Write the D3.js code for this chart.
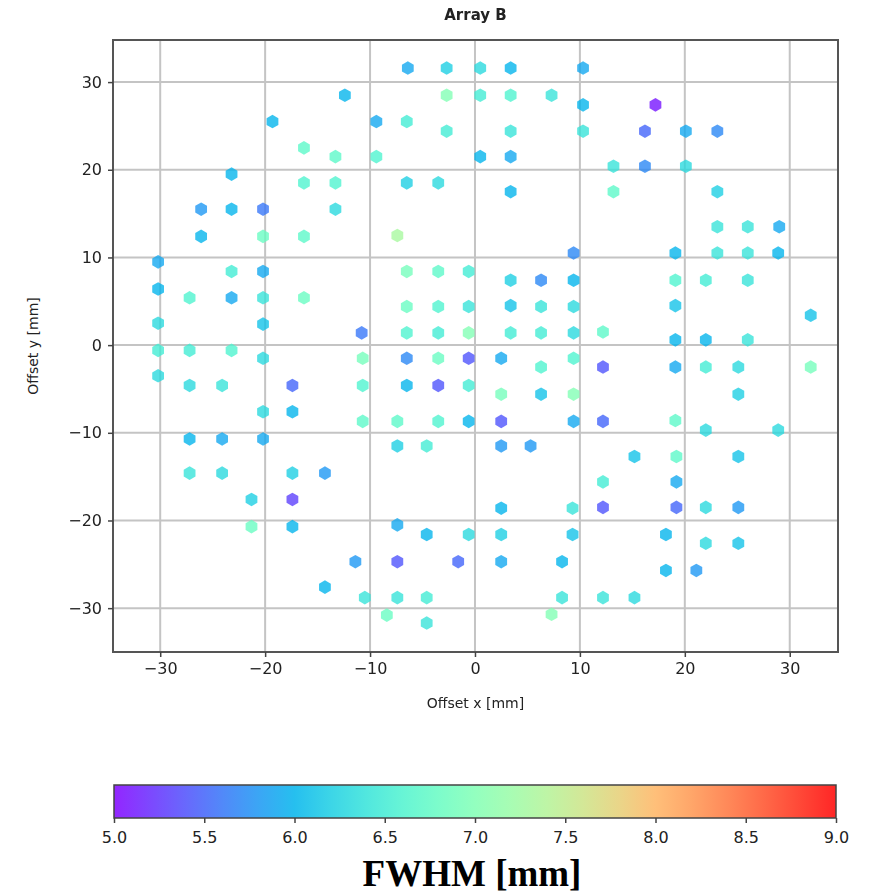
<!DOCTYPE html>
<html>
<head>
<meta charset="utf-8">
<script src="https://cdn.jsdelivr.net/npm/d3@7"></script>
<style>
  body { margin: 0; background: #fff; }
  text { font-family: "DejaVu Sans", sans-serif; fill: #222; }
</style>
</head>
<body>
<div id="chart"></div>
<script>
// Detector offsets [mm] and measured FWHM [mm]
const xs = [
  -6.4, -2.7, 0.5, 3.4, 10.3,
  -12.4, -2.7, 0.5, 3.4, 7.3,
  10.3, 17.2,
  -19.3, -9.4, -6.5,
  -2.7, 3.4, 10.3, 16.2, 20.1, 23.1,
  -16.3,
  -13.3, -9.4, 0.5, 3.4,
  13.2, 16.2, 20.1,
  -23.2,
  -16.3, -13.3, -6.5, -3.5,
  3.4, 13.2, 23.1,
  -26.1, -23.2, -20.2, -13.3,
  23.1, 26.0, 29.0,
  -26.1, -20.2, -16.3, -7.4,
  9.4, 19.1, 23.1, 26.0, 28.9,
  -30.2,
  -23.2, -20.2, -6.5, -3.5, -0.6,
  3.4, 6.3, 9.4, 19.1, 22.0, 26.0,
  -30.2,
  -27.2, -23.2, -20.2, -16.3,
  -6.5, -3.5, -0.6, 3.4, 6.3, 9.4, 19.1,
  32.0,
  -30.2, -20.2,
  -10.8, -6.5, -3.5, -0.6, 3.4, 6.3, 9.4, 12.2,
  19.1, 22.0, 26.0,
  -30.2, -27.2, -23.2,
  -20.2, -10.7, -6.5, -3.5, -0.6, 2.5, 9.4,
  6.3, 12.2, 19.1, 22.0, 25.1, 32.0,
  -30.2,
  -27.2, -24.1, -17.4, -10.7, -6.5, -3.5, -0.6,
  2.5, 6.3, 9.4, 25.1,
  -20.2, -17.4,
  -10.7, -7.4, -3.5, -0.6, 2.5, 9.4, 12.2, 19.1,
  22.0, 28.9,
  -27.2, -24.1, -20.2,
  -7.4, -4.6, 2.5, 5.3,
  15.2, 19.2, 25.1,
  -27.2, -24.1, -17.4, -14.3,
  12.2, 19.2,
  -21.3, -17.4,
  2.5, 9.3, 12.2, 19.2, 22.0, 25.1,
  -21.3, -17.4, -7.4,
  -4.6, -0.6, 2.5, 9.3, 18.2,
  22.0, 25.1,
  -11.4, -7.4, -1.6, 2.5, 8.3,
  18.2, 21.1,
  -14.3,
  -10.5, -7.4, -4.6, 8.3, 12.2, 15.2,
  -8.4, 7.3,
  -4.6
];
const ys = [
  31.6, 31.6, 31.6, 31.6, 31.6,
  28.5, 28.5, 28.5, 28.5, 28.5,
  27.4, 27.4,
  25.5, 25.5, 25.5,
  24.4, 24.4, 24.4, 24.4, 24.4, 24.4,
  22.5,
  21.5, 21.5, 21.5, 21.5,
  20.4, 20.4, 20.4,
  19.5,
  18.5, 18.5, 18.5, 18.5,
  17.5, 17.5, 17.5,
  15.5, 15.5, 15.5, 15.5,
  13.5, 13.5, 13.5,
  12.4, 12.4, 12.4, 12.5,
  10.5, 10.5, 10.5, 10.5, 10.5,
  9.5,
  8.4, 8.4, 8.4, 8.4, 8.4,
  7.4, 7.4, 7.4, 7.4, 7.4, 7.4,
  6.4,
  5.4, 5.4, 5.4, 5.4,
  4.4, 4.4, 4.4, 4.5, 4.4, 4.4, 4.5,
  3.4,
  2.5, 2.4,
  1.4, 1.4, 1.4, 1.4, 1.4, 1.4, 1.4, 1.5,
  0.6, 0.6, 0.6,
  -0.6, -0.6, -0.6,
  -1.5, -1.5, -1.5, -1.5, -1.5, -1.5, -1.5,
  -2.5, -2.5, -2.5, -2.5, -2.5, -2.5,
  -3.5,
  -4.6, -4.6, -4.6, -4.6, -4.6, -4.6, -4.6,
  -5.6, -5.6, -5.6, -5.6,
  -7.6, -7.6,
  -8.7, -8.7, -8.7, -8.7, -8.7, -8.7, -8.7, -8.6,
  -9.7, -9.7,
  -10.7, -10.7, -10.7,
  -11.5, -11.5, -11.5, -11.5,
  -12.7, -12.7, -12.7,
  -14.6, -14.6, -14.6, -14.6,
  -15.6, -15.6,
  -17.6, -17.6,
  -18.6, -18.6, -18.5, -18.5, -18.5, -18.5,
  -20.7, -20.7, -20.5,
  -21.6, -21.6, -21.6, -21.6, -21.6,
  -22.6, -22.6,
  -24.7, -24.7, -24.7, -24.7, -24.7,
  -25.7, -25.7,
  -27.6,
  -28.8, -28.8, -28.8, -28.8, -28.8, -28.8,
  -30.8, -30.7,
  -31.7
];
const fwhm = [
  5.9, 6.2, 6.3, 6.0, 5.9,
  6.0, 7.0, 6.5, 6.6, 6.4,
  6.0, 5.1,
  6.0, 5.9, 6.5,
  6.5, 6.4, 6.4, 5.5, 5.9, 5.7,
  6.7,
  6.7, 6.6, 6.0, 5.9,
  6.4, 5.7, 6.3,
  6.0,
  6.6, 6.6, 6.2, 6.3,
  6.0, 6.7, 6.2,
  5.8, 6.0, 5.6, 6.3,
  6.4, 6.4, 5.9,
  6.0, 6.8, 6.7, 7.3,
  5.7, 6.0, 6.4, 6.4, 6.0,
  5.9,
  6.5, 5.9, 6.9, 6.7, 6.5,
  6.2, 5.7, 6.0, 6.6, 6.5, 6.4,
  6.0,
  6.6, 5.9, 6.4, 6.8,
  6.8, 6.6, 6.4, 6.1, 6.4, 6.3, 6.1,
  6.1,
  6.3, 6.1,
  5.6, 6.6, 6.5, 7.0, 6.5, 6.5, 6.3, 6.7,
  6.0, 6.0, 6.4,
  6.5, 6.5, 6.6,
  6.3, 6.9, 5.7, 6.8, 5.4, 5.9, 6.6,
  6.6, 5.4, 5.9, 6.5, 6.3, 6.9,
  6.3,
  6.3, 6.4, 5.5, 6.6, 6.0, 5.4, 6.5,
  6.9, 6.1, 7.0, 6.2,
  6.3, 6.0,
  6.7, 6.7, 6.6, 6.0, 5.4, 5.9, 5.5, 6.7,
  6.3, 6.3,
  6.0, 5.9, 5.9,
  6.2, 6.5, 5.8, 5.8,
  6.1, 6.7, 6.1,
  6.4, 6.3, 6.2, 5.8,
  6.5, 5.9,
  6.2, 5.3,
  6.0, 6.4, 5.4, 5.5, 6.3, 5.8,
  6.8, 6.0, 5.9,
  6.0, 6.3, 6.2, 6.1, 6.0,
  6.3, 6.1,
  5.8, 5.4, 5.5, 5.9, 6.0,
  6.0, 5.8,
  6.0,
  6.4, 6.4, 6.5, 6.4, 6.4, 6.3,
  6.8, 7.0,
  6.4
];

const axisTicks = [-30, -20, -10, 0, 10, 20, 30];
const cbarTicks = [5.0, 5.5, 6.0, 6.5, 7.0, 7.5, 8.0, 8.5, 9.0];

const W = 879, H = 893;
const plot = { left: 113, top: 40, right: 838, bottom: 652 };

const svg = d3.select("#chart").append("svg")
  .attr("width", W).attr("height", H);

const x = d3.scaleLinear().domain([-34.5, 34.6]).range([plot.left, plot.right]);
const y = d3.scaleLinear().domain([-35.0, 34.8]).range([plot.bottom, plot.top]);

// matplotlib "rainbow" colormap
function rainbow(t) {
  t = Math.max(0, Math.min(1, t));
  const r = Math.min(1, Math.abs(2 * t - 0.5));
  const g = Math.sin(Math.PI * t);
  const b = Math.cos(Math.PI * t / 2);
  return d3.rgb(r * 255, g * 255, b * 255).formatHex();
}
const cNorm = d3.scaleLinear().domain([5, 9]).range([0, 1]).clamp(true);
const color = v => rainbow(cNorm(v));

// soft edge, the source picture is a bit blurred
const defs = svg.append("defs");
defs.append("filter").attr("id", "soft")
  .append("feGaussianBlur").attr("stdDeviation", 0.6);

// grid
const grid = svg.append("g");
grid.selectAll(".gx").data(axisTicks).enter().append("line")
  .attr("x1", d => x(d)).attr("x2", d => x(d))
  .attr("y1", plot.top).attr("y2", plot.bottom)
  .attr("stroke", "#c4c4c4").attr("stroke-width", 2);
grid.selectAll(".gy").data(axisTicks).enter().append("line")
  .attr("y1", d => y(d)).attr("y2", d => y(d))
  .attr("x1", plot.left).attr("x2", plot.right)
  .attr("stroke", "#c4c4c4").attr("stroke-width", 2);

// hexagon marker
const hexR = 6.8;
const hexPath = d3.line()(d3.range(6).map(i => {
  const a = Math.PI / 2 + i * Math.PI / 3;
  return [hexR * Math.cos(a), -hexR * Math.sin(a)];
})) + "Z";

const pts = xs.map((d, i) => ({ x: d, y: ys[i], v: fwhm[i] }));
svg.append("g").attr("filter", "url(#soft)")
  .selectAll("path").data(pts).enter().append("path")
  .attr("d", hexPath)
  .attr("transform", d => `translate(${x(d.x)},${y(d.y)})`)
  .attr("fill", d => color(d.v))
  .attr("opacity", 0.78);

// frame
svg.append("rect")
  .attr("x", plot.left).attr("y", plot.top)
  .attr("width", plot.right - plot.left).attr("height", plot.bottom - plot.top)
  .attr("fill", "none").attr("stroke", "#555").attr("stroke-width", 2);

// axes
const fmt = d => d < 0 ? "\u2212" + Math.abs(d) : String(d);
const xAxis = svg.append("g").attr("transform", `translate(0,${plot.bottom})`)
  .call(d3.axisBottom(x).tickValues(axisTicks).tickFormat(fmt).tickSize(5).tickPadding(6));
const yAxis = svg.append("g").attr("transform", `translate(${plot.left},0)`)
  .call(d3.axisLeft(y).tickValues(axisTicks).tickFormat(fmt).tickSize(5).tickPadding(6));
[xAxis, yAxis].forEach(a => {
  a.select(".domain").remove();
  a.selectAll(".tick line").attr("stroke", "#444").attr("stroke-width", 1.5);
  a.selectAll("text").attr("font-size", 16).attr("fill", "#222")
    .attr("font-family", "DejaVu Sans, sans-serif");
});

svg.append("text").attr("x", (plot.left + plot.right) / 2).attr("y", 20)
  .attr("text-anchor", "middle").attr("font-size", 15).attr("font-weight", "bold")
  .text("Array B");
svg.append("text").attr("x", (plot.left + plot.right) / 2).attr("y", 708)
  .attr("text-anchor", "middle").attr("font-size", 14)
  .text("Offset x [mm]");
svg.append("text")
  .attr("transform", `translate(38,${(plot.top + plot.bottom) / 2}) rotate(-90)`)
  .attr("text-anchor", "middle").attr("font-size", 14)
  .text("Offset y [mm]");

// colorbar
const cb = { left: 114, right: 836, top: 785, bottom: 818 };
const cx = d3.scaleLinear().domain([5, 9]).range([cb.left, cb.right]);
const grad = defs.append("linearGradient").attr("id", "cbar");
d3.range(0, 1.0001, 0.05).forEach(t => {
  grad.append("stop").attr("offset", t).attr("stop-color", rainbow(t));
});
svg.append("rect")
  .attr("x", cb.left).attr("y", cb.top)
  .attr("width", cb.right - cb.left).attr("height", cb.bottom - cb.top)
  .attr("fill", "url(#cbar)").attr("fill-opacity", 0.85)
  .attr("stroke", "#444").attr("stroke-width", 1.5);
const cAxis = svg.append("g").attr("transform", `translate(0,${cb.bottom})`)
  .call(d3.axisBottom(cx).tickValues(cbarTicks).tickFormat(d3.format(".1f")).tickSize(5).tickPadding(9));
cAxis.select(".domain").remove();
cAxis.selectAll(".tick line").attr("stroke", "#444").attr("stroke-width", 1.5);
cAxis.selectAll("text").attr("font-size", 16).attr("fill", "#222");

svg.append("text").attr("x", 472).attr("y", 886)
  .attr("text-anchor", "middle")
  .style("font-family", "'Liberation Serif', serif")
  .attr("font-weight", "bold").attr("font-size", 37).style("fill", "#000")
  .text("FWHM [mm]");
</script>
</body>
</html>
